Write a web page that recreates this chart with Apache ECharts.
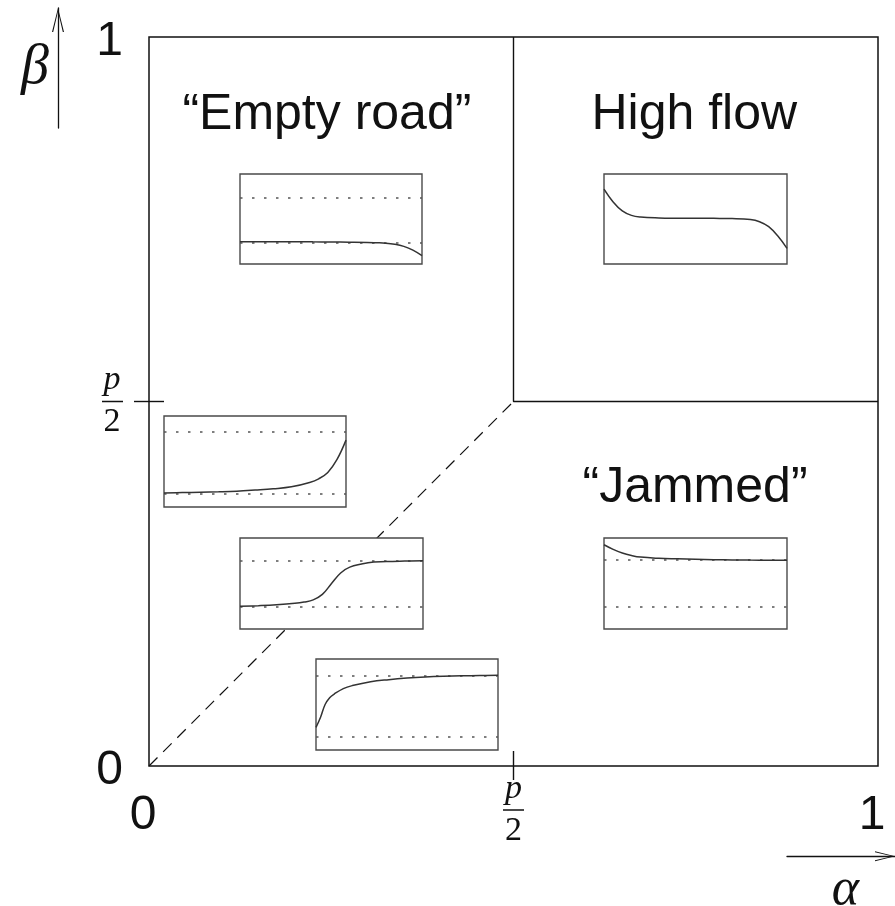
<!DOCTYPE html>
<html><head><meta charset="utf-8">
<script src="https://cdn.jsdelivr.net/npm/echarts@6/dist/echarts.min.js"></script>
<style>html,body{margin:0;padding:0;background:#fff}#c{width:895px;height:906px}</style>
</head><body><div id="c"></div>
<script>
// ---------- main phase diagram (alpha, beta in units of 1) ----------
const edgeTickValues = [0, 1];
const edgeTickLabels = ['0', '1'];
const halfTickValues = [0.5];               // p/2
const phaseBoundary = [[0.5, 1], [0.5, 0.5], [1, 0.5]];
const coexistenceLine = [[0, 0], [0.5, 0.5]];
const regionNames = ['\u201cEmpty road\u201d', 'High flow', '\u201cJammed\u201d'];
const regionX = [0.244, 0.748, 0.749];
const regionY = [0.893, 0.893, 0.381];

// ---------- inset density profiles (position along road, density in box units) ----------
const emptyRoadX = [0, 0.1, 0.2, 0.3, 0.4, 0.5, 0.6, 0.7, 0.75, 0.8, 0.85, 0.9, 0.95, 1];
const emptyRoadY = [0.248, 0.248, 0.247, 0.247, 0.246, 0.245, 0.243, 0.240, 0.236, 0.231, 0.219, 0.196, 0.155, 0.093];
const emptyRoadRefs = [0.744, 0.244];

const highFlowX = [0, 0.05, 0.1, 0.15, 0.2, 0.3, 0.4, 0.5, 0.6, 0.7, 0.8, 0.85, 0.9, 0.95, 1];
const highFlowY = [0.833, 0.69, 0.59, 0.54, 0.522, 0.512, 0.509, 0.508, 0.507, 0.505, 0.495, 0.47, 0.415, 0.31, 0.174];
const highFlowRefs = [];

const boundaryLayerX = [0, 0.1, 0.2, 0.3, 0.4, 0.5, 0.6, 0.7, 0.8, 0.85, 0.9, 0.95, 1];
const boundaryLayerY = [0.154, 0.158, 0.162, 0.167, 0.174, 0.186, 0.2, 0.222, 0.27, 0.31, 0.38, 0.52, 0.735];
const boundaryLayerRefs = [0.835, 0.154];

const shockX = [0, 0.1, 0.2, 0.3, 0.35, 0.4, 0.45, 0.5, 0.55, 0.6, 0.7, 0.8, 0.9, 1];
const shockY = [0.249, 0.256, 0.266, 0.282, 0.296, 0.32, 0.38, 0.5, 0.615, 0.68, 0.728, 0.741, 0.747, 0.751];
const shockRefs = [0.751, 0.249];

const jammedX = [0, 0.05, 0.1, 0.15, 0.2, 0.3, 0.4, 0.5, 0.6, 0.7, 0.8, 0.9, 1];
const jammedY = [0.926, 0.875, 0.835, 0.808, 0.79, 0.777, 0.771, 0.766, 0.762, 0.759, 0.757, 0.756, 0.756];
const jammedRefs = [0.756, 0.248];

const entryLayerX = [0, 0.025, 0.05, 0.075, 0.1, 0.15, 0.2, 0.3, 0.4, 0.5, 0.6, 0.7, 0.8, 0.9, 1];
const entryLayerY = [0.249, 0.36, 0.5, 0.575, 0.615, 0.675, 0.708, 0.75, 0.773, 0.79, 0.802, 0.81, 0.815, 0.819, 0.821];
const entryLayerRefs = [0.821, 0.147];

// ---------- build ----------
const INK = '#111111';
const zip = (xs, ys) => xs.map((x, i) => [x, ys[i]]);
const insets = [
  { box: [240, 174, 182, 90], x: emptyRoadX, y: emptyRoadY, refs: emptyRoadRefs },
  { box: [604, 174, 183, 90], x: highFlowX, y: highFlowY, refs: highFlowRefs },
  { box: [164, 416, 182, 91], x: boundaryLayerX, y: boundaryLayerY, refs: boundaryLayerRefs },
  { box: [240, 538, 183, 91], x: shockX, y: shockY, refs: shockRefs },
  { box: [604, 538, 183, 91], x: jammedX, y: jammedY, refs: jammedRefs },
  { box: [316, 659, 182, 91], x: entryLayerX, y: entryLayerY, refs: entryLayerRefs }
];

const arrowPath = 'path://M5,0L10,20L9,20L5,3L1,20L0,20Z';
const fracRich = {
  p: { fontFamily: 'Liberation Serif', fontStyle: 'italic', fontSize: 34, lineHeight: 38, width: 22, align: 'center', color: INK },
  bar: { width: 21, height: 0, lineHeight: 4, borderColor: INK, borderWidth: 1.4 },
  d: { fontFamily: 'Liberation Serif', fontSize: 34, lineHeight: 38, width: 22, align: 'center', color: INK }
};
const fracText = '{p|p}\n{bar|}\n{d|2}';
const numStyle = { fontFamily: 'Liberation Sans', fontSize: 48, color: INK };
const labelFor = v => edgeTickLabels[edgeTickValues.indexOf(v)];

const grid = [
  { left: 149, top: 37, width: 729, height: 729, show: true, borderColor: INK, borderWidth: 1.5, backgroundColor: 'transparent', z: 0 },
  { left: 58, top: 8, width: 1, height: 120, show: false },
  { left: 787, top: 856, width: 111, height: 1, show: false }
];
insets.forEach(s => grid.push({ left: s.box[0], top: s.box[1], width: s.box[2], height: s.box[3], show: true,
  backgroundColor: '#fff', borderColor: '#4a4a4a', borderWidth: 1.4, z: 3 }));

const hiddenAxis = gi => ({ gridIndex: gi, type: 'value', min: 0, max: 1, show: false });

const xAxis = [
  { gridIndex: 0, type: 'value', position: 'bottom', min: 0, max: 1,
    axisLine: { show: false }, splitLine: { show: false },
    axisTick: { show: true, customValues: halfTickValues, length: 14, lineStyle: { color: INK, width: 1.4 } },
    axisLabel: { show: true, customValues: edgeTickValues, margin: 26, formatter: v => '{n|' + labelFor(v) + '}',
      rich: { n: Object.assign({ padding: [0, 12, 0, 0] }, numStyle) } } },
  { gridIndex: 0, type: 'value', position: 'bottom', min: 0, max: 1,
    axisLine: { show: false }, splitLine: { show: false },
    axisTick: { show: true, inside: true, customValues: halfTickValues, length: 15, lineStyle: { color: INK, width: 1.4 } },
    axisLabel: { show: true, customValues: halfTickValues, margin: 4, formatter: () => fracText, rich: fracRich } },
  hiddenAxis(1),
  { gridIndex: 2, type: 'value', position: 'bottom', min: 0, max: 1,
    axisLine: { show: true, onZero: false, symbol: ['none', arrowPath], symbolSize: [10, 20], symbolOffset: [0, -10],
      lineStyle: { color: INK, width: 1.3 } },
    axisTick: { show: false }, axisLabel: { show: false }, splitLine: { show: false },
    name: '\u03b1', nameLocation: 'middle', nameGap: 8,
    nameTextStyle: { fontFamily: 'Liberation Serif', fontStyle: 'italic', fontSize: 52, color: INK, padding: [0, 0, 0, 9] } }
];
const yAxis = [
  { gridIndex: 0, type: 'value', position: 'left', min: 0, max: 1,
    axisLine: { show: false }, splitLine: { show: false },
    axisTick: { show: false },
    axisLabel: { show: true, customValues: edgeTickValues, margin: 26, formatter: v => '{n|' + labelFor(v) + '}',
      rich: { n: Object.assign({ padding: [10, 0, 0, 0] }, numStyle) } } },
  { gridIndex: 0, type: 'value', position: 'left', min: 0, max: 1,
    axisLine: { show: false }, splitLine: { show: false },
    axisTick: { show: true, inside: true, customValues: halfTickValues, length: 15, lineStyle: { color: INK, width: 1.4 } },
    axisLabel: { show: false } },
  { gridIndex: 0, type: 'value', position: 'left', min: 0, max: 1,
    axisLine: { show: false }, splitLine: { show: false },
    axisTick: { show: true, customValues: halfTickValues, length: 15, lineStyle: { color: INK, width: 1.4 } },
    axisLabel: { show: true, customValues: halfTickValues, margin: 26, formatter: () => fracText, rich: fracRich } },
  { gridIndex: 1, type: 'value', position: 'left', min: 0, max: 1,
    axisLine: { show: true, onZero: false, symbol: ['none', arrowPath], symbolSize: [12, 24], symbolOffset: [0, -12],
      lineStyle: { color: INK, width: 1.3 } },
    axisTick: { show: false }, axisLabel: { show: false }, splitLine: { show: false },
    name: '\u03b2', nameLocation: 'middle', nameRotate: 0, nameGap: 9,
    nameTextStyle: { fontFamily: 'Liberation Serif', fontStyle: 'italic', fontSize: 56, color: INK } },
  hiddenAxis(2)
];
insets.forEach((s, i) => { xAxis.push(hiddenAxis(3 + i)); yAxis.push(hiddenAxis(3 + i)); });

const series = [
  { type: 'line', xAxisIndex: 0, yAxisIndex: 0, data: phaseBoundary, symbol: 'none', z: 1, silent: true,
    lineStyle: { color: INK, width: 1.4 } },
  { type: 'line', xAxisIndex: 0, yAxisIndex: 0, data: coexistenceLine, symbol: 'none', z: 1, silent: true,
    lineStyle: { color: INK, width: 1.2, type: [12, 8] } },
  { type: 'scatter', xAxisIndex: 0, yAxisIndex: 0, symbolSize: 0, z: 6, silent: true,
    itemStyle: { opacity: 1 },
    data: regionNames.map((n, i) => ({ name: n, value: [regionX[i], regionY[i]] })),
    label: { show: true, position: 'inside', formatter: '{b}', fontFamily: 'Liberation Sans', fontSize: 50, color: INK, opacity: 1 } }
];
insets.forEach((s, i) => {
  series.push({
    type: 'line', xAxisIndex: 4 + i, yAxisIndex: 5 + i, data: zip(s.x, s.y), symbol: 'none', z: 5, silent: true,
    smooth: 0.4, lineStyle: { color: '#333', width: 1.5 },
    markLine: s.refs.length ? { silent: true, symbol: 'none', label: { show: false },
      lineStyle: { color: '#555', width: 1.6, type: [2.5, 9.5] }, data: s.refs.map(v => ({ yAxis: v })) } : undefined
  });
});

const chart = echarts.init(document.getElementById('c'), null, { renderer: 'canvas' });
chart.setOption({ animation: false, backgroundColor: '#fff', grid, xAxis, yAxis, series });
</script>
</body></html>
